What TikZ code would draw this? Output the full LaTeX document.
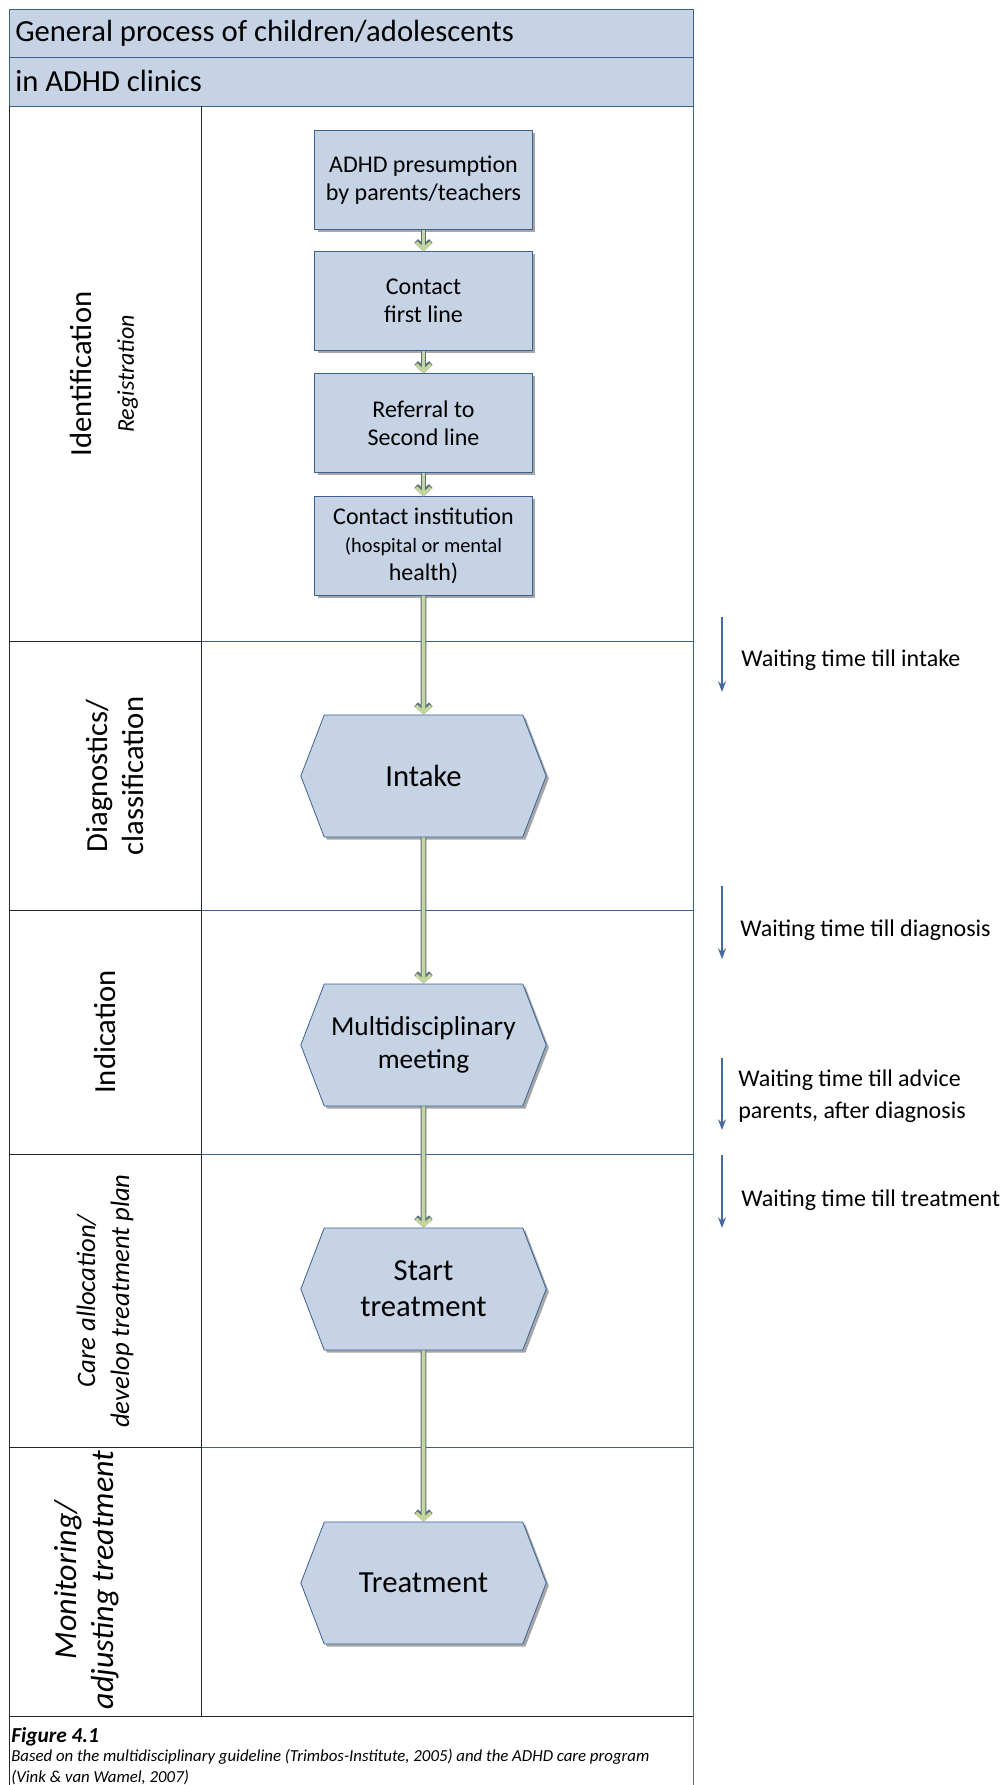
\documentclass[tikz,border=0pt]{standalone}
\usepackage{fontspec}
\setmainfont{Carlito}
\usetikzlibrary{arrows.meta,shapes.symbols,shadows}
\definecolor{paleblue}{RGB}{197,211,229}
\definecolor{darkblue}{RGB}{60,96,145}
\definecolor{palegreen}{RGB}{195,214,155}
\definecolor{greyblue}{RGB}{95,110,125}
\definecolor{waitblue}{RGB}{70,105,160}
\tikzset{
  stepbox/.style={draw=darkblue, fill=paleblue, line width=0.6pt, minimum width=163pt, minimum height=74pt,
    align=center, font=\fontsize{18}{21}\selectfont,
    drop shadow={shadow xshift=2pt, shadow yshift=-2pt, fill=black, opacity=0.35}},
  stagehex/.style={signal, signal to=east and west, signal pointer angle=138, draw=darkblue, fill=paleblue,
    line width=0.6pt, minimum width=184pt, minimum height=91.5pt, inner xsep=0pt,
    align=center, font=\fontsize{23}{27}\selectfont,
    drop shadow={shadow xshift=2pt, shadow yshift=-2pt, fill=black, opacity=0.35}},
  flow/.style={draw=palegreen, line width=2.8pt, -{Straight Barb[length=5pt,width=11pt,line width=2.4pt]},
    preaction={draw=greyblue, line width=4.4pt, -{Straight Barb[length=5pt,width=11pt,line width=4pt]}}},
  waitarrow/.style={draw=waitblue, line width=1pt, -{Stealth[length=8pt,width=6pt]}},
  waitnote/.style={anchor=west, inner sep=0pt, align=left, font=\fontsize{18}{24}\selectfont},
  lanelabel/.style={rotate=90, align=center, inner sep=0pt},
}
\begin{document}
\begin{tikzpicture}[x=0.75pt, y=-0.75pt, line join=round]
  \useasboundingbox (0,0) rectangle (1007,1785);
  % header
  \fill[paleblue] (9,9) rectangle (693,106);
  \draw[darkblue, line width=0.75pt] (9,9) rectangle (693,57);
  \draw[darkblue, line width=0.75pt] (9,57) rectangle (693,106);
  \node[anchor=west, inner sep=0pt, font=\fontsize{23}{27}\selectfont] (title) at (15,33) {General process of children/adolescents};
  \node[anchor=west, inner sep=0pt, font=\fontsize{23}{27}\selectfont] (subtitle) at (15,81) {in ADHD clinics};
  % lanes
  \foreach \y in {641,910,1154,1447} {
    \draw[black!85, line width=0.75pt] (9,\y) -- (201,\y);
    \draw[darkblue, line width=0.75pt] (201,\y) -- (693,\y);
  }
  \draw[black!85, line width=0.75pt] (9,1716) -- (693,1716);
  \draw[black!85, line width=0.75pt] (9,106) -- (9,1785);
  \draw[black!85, line width=0.75pt] (201,106) -- (201,1716);
  \draw[darkblue, line width=0.75pt] (693,106) -- (693,1716);
  \draw[black!60, line width=0.75pt] (693,1716) -- (693,1785);
  % lane titles
  \node[lanelabel, font=\fontsize{23}{32}\selectfont] (ident) at (104,374) {Identification\\{\fontsize{18}{22}\selectfont\itshape Registration}};
  \node[lanelabel, font=\fontsize{23}{27}\selectfont] (diag) at (115,776) {Diagnostics/\\classification};
  \node[lanelabel, font=\fontsize{23}{27}\selectfont] (indic) at (105,1032) {Indication};
  \node[lanelabel, font=\fontsize{20}{25.5}\selectfont\itshape] (care) at (105,1301) {Care allocation/\\develop treatment plan};
  \node[lanelabel, font=\fontsize{24}{28}\selectfont\itshape] (monitor) at (86.5,1580) {Monitoring/\\adjusting treatment};
  % process steps
  \node[stepbox] (presume) at (423.5,180) {ADHD presumption\\by parents/teachers};
  \node[stepbox] (firstline) at (423.5,301) {Contact\\first line};
  \node[stepbox] (referral) at (423.5,423) {Referral to\\Second line};
  \node[stepbox] (institution) at (423.5,546) {Contact institution\\\fontsize{15.3}{20.5}\selectfont(hospital or mental\\health)};
  \node[stagehex] (intake) at (423.5,776) {Intake};
  \node[stagehex, font=\fontsize{20.5}{25}\selectfont] (meeting) at (423.5,1045) {Multidisciplinary\\meeting};
  \node[stagehex] (start) at (423.5,1289) {Start\\treatment};
  \node[stagehex] (treatment) at (423.5,1583) {Treatment};
  \draw[flow] (presume) -- (firstline);
  \draw[flow] (firstline) -- (referral);
  \draw[flow] (referral) -- (institution);
  \draw[flow] (institution) -- (intake);
  \draw[flow] (intake) -- (meeting);
  \draw[flow] (meeting) -- (start);
  \draw[flow] (start) -- (treatment);
  % waiting times
  \coordinate (w1a) at (722,617);  \coordinate (w1b) at (722,692);
  \coordinate (w2a) at (722,886);  \coordinate (w2b) at (722,959);
  \coordinate (w3a) at (722,1058); \coordinate (w3b) at (722,1130);
  \coordinate (w4a) at (722,1155); \coordinate (w4b) at (722,1228);
  \draw[waitarrow] (w1a) -- (w1b);
  \draw[waitarrow] (w2a) -- (w2b);
  \draw[waitarrow] (w3a) -- (w3b);
  \draw[waitarrow] (w4a) -- (w4b);
  \node[waitnote] (wintake) at (741,660) {Waiting time till intake};
  \node[waitnote] (wdiag) at (740,930) {Waiting time till diagnosis};
  \node[waitnote] (wadvice) at (738,1096) {Waiting time till advice\\parents, after diagnosis};
  \node[waitnote] (wtreat) at (741,1200) {Waiting time till treatment};
  % caption
  \node[anchor=west, inner sep=0pt, font=\fontsize{16}{18}\selectfont\bfseries\itshape] (fig) at (11,1737) {Figure 4.1};
  \node[anchor=north west, inner sep=0pt, align=left, font=\fontsize{12.6}{15.5}\selectfont\itshape] (source) at (11,1749)
    {Based on the multidisciplinary guideline (Trimbos-Institute, 2005) and the ADHD care program\\(Vink \& van Wamel, 2007)};
\end{tikzpicture}
\end{document}
